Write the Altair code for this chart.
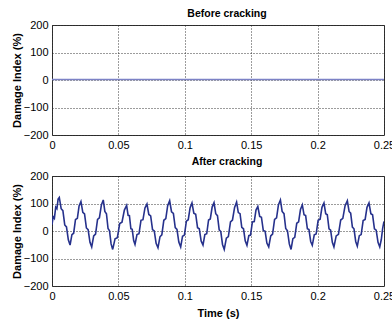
import altair as alt
import pandas as pd

# ---- data ----
before_t = [0.0, 0.05, 0.1, 0.15, 0.2, 0.25]
before_v = [2, 2, 2, 2, 2, 2]

after_t = [
    0.0000, 0.0009, 0.0018, 0.0028, 0.0037, 0.0046, 0.0055,
    0.0069, 0.0082, 0.0096, 0.0109, 0.0123, 0.0136,
    0.0150, 0.0163, 0.0177, 0.0191, 0.0204, 0.0218,
    0.0232, 0.0245, 0.0259, 0.0272, 0.0286, 0.0299,
    0.0314, 0.0328, 0.0343, 0.0357, 0.0372, 0.0386,
    0.0398, 0.0410, 0.0422, 0.0433, 0.0445, 0.0457,
    0.0475, 0.0492, 0.0510, 0.0527, 0.0545, 0.0562,
    0.0573, 0.0583, 0.0594, 0.0604, 0.0615, 0.0625,
    0.0640, 0.0655, 0.0670, 0.0685, 0.0700, 0.0715,
    0.0729, 0.0743, 0.0757, 0.0770, 0.0784, 0.0798,
    0.0813, 0.0827, 0.0842, 0.0857, 0.0871, 0.0886,
    0.0900, 0.0914, 0.0928, 0.0941, 0.0955, 0.0969,
    0.0983, 0.0997, 0.1012, 0.1026, 0.1040, 0.1054,
    0.1068, 0.1082, 0.1096, 0.1109, 0.1123, 0.1137,
    0.1151, 0.1165, 0.1179, 0.1192, 0.1206, 0.1220,
    0.1233, 0.1246, 0.1259, 0.1271, 0.1284, 0.1297,
    0.1313, 0.1328, 0.1344, 0.1359, 0.1375, 0.1390,
    0.1403, 0.1416, 0.1429, 0.1442, 0.1455, 0.1468,
    0.1482, 0.1495, 0.1509, 0.1523, 0.1536, 0.1550,
    0.1564, 0.1577, 0.1591, 0.1605, 0.1618, 0.1632,
    0.1647, 0.1661, 0.1676, 0.1691, 0.1705, 0.1720,
    0.1733, 0.1747, 0.1760, 0.1773, 0.1787, 0.1800,
    0.1814, 0.1828, 0.1843, 0.1857, 0.1871, 0.1885,
    0.1898, 0.1910, 0.1923, 0.1935, 0.1948, 0.1960,
    0.1975, 0.1989, 0.2004, 0.2019, 0.2033, 0.2048,
    0.2061, 0.2073, 0.2086, 0.2098, 0.2111, 0.2123,
    0.2140, 0.2157, 0.2174, 0.2190, 0.2207, 0.2224,
    0.2237, 0.2249, 0.2262, 0.2274, 0.2287, 0.2299,
    0.2314, 0.2328, 0.2343, 0.2358, 0.2372, 0.2387,
    0.2401, 0.2414, 0.2428, 0.2441, 0.2455, 0.2468,
    0.2480, 0.2490, 0.2500,
]
after_v = [
    23, 52, 46, 87, 81, 116, 122,
    81, 74, 22, 15, -32, -51,
    -13, -8, 42, 46, 91, 107,
    68, 62, 11, 5, -41, -58,
    -18, -11, 42, 48, 95, 113,
    71, 63, 9, 1, -47, -67,
    -28, -24, 27, 32, 76, 93,
    57, 56, 8, 6, -35, -49,
    -13, -10, 39, 41, 84, 98,
    60, 55, 5, 0, -45, -61,
    -21, -14, 39, 45, 92, 110,
    70, 64, 12, 6, -40, -58,
    -19, -15, 36, 41, 85, 102,
    65, 61, 12, 8, -36, -51,
    -13, -10, 40, 44, 87, 103,
    63, 56, 4, -2, -49, -67,
    -26, -20, 33, 40, 86, 105,
    67, 63, 13, 8, -36, -52,
    -17, -15, 33, 34, 76, 89,
    53, 50, 2, -1, -44, -58,
    -18, -11, 42, 48, 95, 113,
    71, 63, 9, 1, -47, -67,
    -28, -23, 28, 33, 78, 95,
    59, 56, 8, 5, -38, -52,
    -14, -11, 39, 43, 86, 102,
    63, 59, 8, 3, -41, -58,
    -18, -12, 40, 46, 92, 110,
    71, 65, 14, 8, -38, -55,
    -17, -13, 38, 42, 86, 102,
    63, 59, 8, 3, -41, -58,
    -30, 10, 35,
]

x_ticks = [0, 0.05, 0.1, 0.15, 0.2, 0.25]
y_ticks = [-200, -100, 0, 100, 200]

FONT = "Liberation Sans"

before_df = pd.DataFrame({"t": before_t, "v": before_v})
after_df = pd.DataFrame({"t": after_t, "v": after_v})


def panel(df, title, color, width, xtitle, toffset):
    x_axis = alt.Axis(values=x_ticks, format="~r", title=xtitle,
                      titlePadding=6, labelFlush=False)
    y_axis = alt.Axis(values=y_ticks, format="d", title="Damage Index (%)",
                      titlePadding=1)
    return (
        alt.Chart(df)
        .mark_line(color=color, strokeWidth=width, clip=True)
        .encode(
            x=alt.X("t:Q", scale=alt.Scale(domain=[0, 0.25], nice=False, zero=False),
                    axis=x_axis),
            y=alt.Y("v:Q", scale=alt.Scale(domain=[-200, 200], nice=False),
                    axis=y_axis),
        )
        .properties(
            width=332,
            height=110,
            title=alt.TitleParams(title, font=FONT, fontSize=10.5, fontWeight="bold",
                                  anchor="middle", offset=toffset, dx=9,
                                  color="black"),
        )
    )


top = panel(before_df, "Before cracking", "#7c82c6", 1.4, "", 0)
bottom = panel(after_df, "After cracking", "#26318c", 1.6, "Time (s)", 3)

chart = (
    alt.vconcat(top, bottom, spacing=41, bounds="flush")
    .configure(
        autosize=alt.AutoSizeParams(type="none"),
        padding={"left": 52, "top": 25, "right": 8, "bottom": 298},
        background="white",
    )
    .configure_view(stroke="#333333", strokeWidth=1)
    .configure_axis(
        labelFont=FONT,
        labelFontSize=11,
        labelColor="black",
        labelPadding=4,
        titleFont=FONT,
        titleFontSize=11,
        titleFontWeight="bold",
        titleColor="black",
        domain=False,
        ticks=False,
        grid=True,
        gridColor="#222222",
        gridDash=[1, 2],
        gridOpacity=1,
        gridWidth=0.9,
    )
)

chart.save("out.html", embed_options={"renderer": "svg", "actions": False})
